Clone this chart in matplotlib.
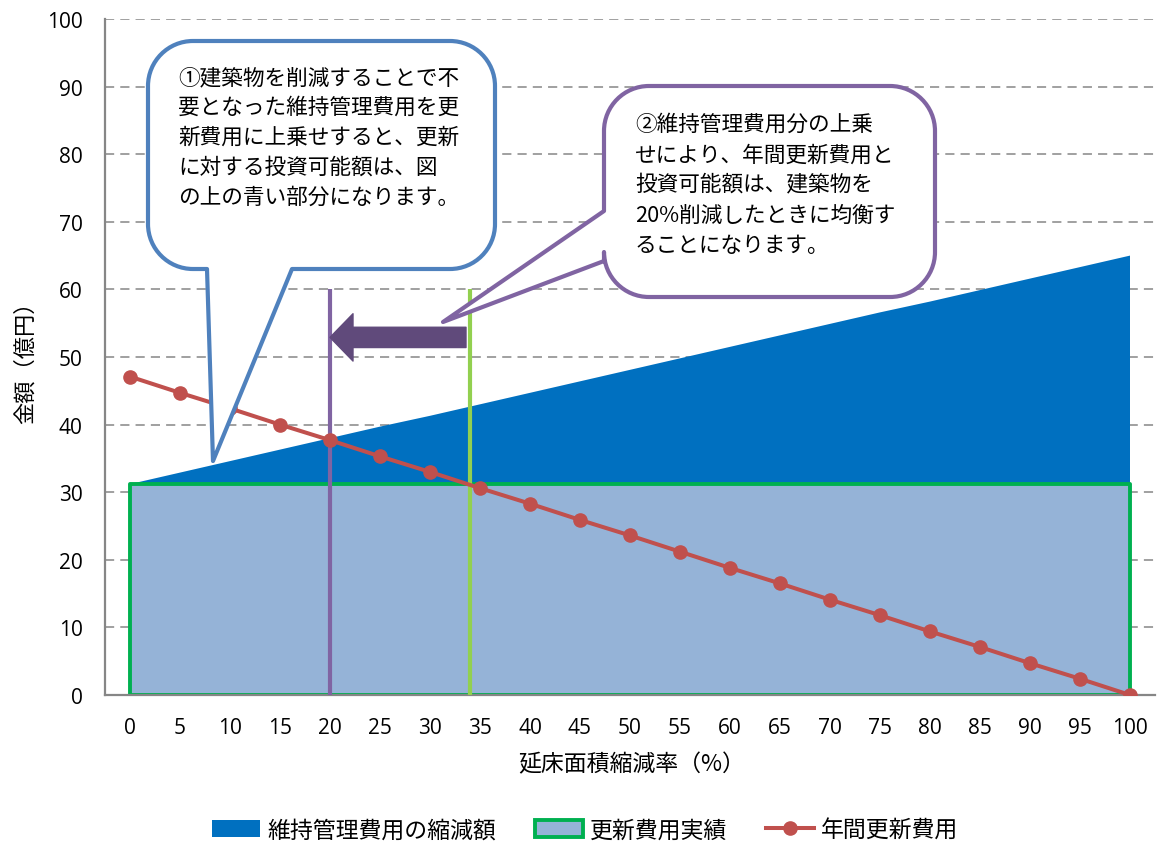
import matplotlib
matplotlib.use("Agg")
import matplotlib.pyplot as plt
from matplotlib.path import Path
from matplotlib.patches import PathPatch, FancyArrow, Patch
from matplotlib.lines import Line2D
from matplotlib.transforms import Affine2D

plt.rcParams['font.family'] = ['Noto Sans CJK JP', 'DejaVu Sans']

# --- data -------------------------------------------------------------
reduction_rate = [0, 5, 10, 15, 20, 25, 30, 35, 40, 45, 50,
                  55, 60, 65, 70, 75, 80, 85, 90, 95, 100]
# 更新費用実績 (constant)
renewal_actual = [31.2] * 21
# 維持管理費用の縮減額 (stacked above 更新費用実績)
maintenance_cut = [0.0, 1.7, 3.4, 5.1, 6.8, 8.5, 10.1, 11.8, 13.5, 15.2, 16.9,
                   18.6, 20.3, 22.0, 23.7, 25.4, 27.0, 28.7, 30.4, 32.1, 33.8]
# 年間更新費用
annual_renewal = [47.1, 44.7, 42.4, 40.0, 37.7, 35.3, 33.0, 30.6, 28.3, 25.9, 23.6,
                  21.2, 18.8, 16.5, 14.1, 11.8, 9.4, 7.1, 4.7, 2.4, 0.0]
y_ticks = [0, 10, 20, 30, 40, 50, 60, 70, 80, 90, 100]
current_rate = 34      # rate where cost and budget balance (before adding maintenance)
balanced_rate = 20     # rate where they balance with maintenance savings added
marker_top = 60

series_labels = ['維持管理費用の縮減額', '更新費用実績', '年間更新費用']
note1 = ['①建築物を削減することで不',
         '要となった維持管理費用を更',
         '新費用に上乗せすると、更新',
         'に対する投資可能額は、図',
         'の上の青い部分になります。']
note2 = ['②維持管理費用分の上乗',
         'せにより、年間更新費用と',
         '投資可能額は、建築物を',
         '20%削減したときに均衡す',
         'ることになります。']

# --- colours ----------------------------------------------------------
C_DARK = '#0070C0'
C_LIGHT = '#95B3D7'
C_GREENEDGE = '#00B050'
C_RED = '#C0504D'
C_PURPLE = '#8064A2'
C_LIME = '#92D050'
C_ARROW = '#604A7B'
C_AXIS = '#868686'
C_BLUEEDGE = '#4F81BD'

W, H = 1159, 845
fig = plt.figure(figsize=(W / 100, H / 100), dpi=100)
ax = fig.add_axes([105 / W, 1 - 696 / H, 1050 / W, 676 / H])

top = [a + b for a, b in zip(renewal_actual, maintenance_cut)]
ax.fill_between(reduction_rate, renewal_actual, top, facecolor=C_DARK,
                edgecolor='none', zorder=1.5)
ax.fill_between(reduction_rate, 0, renewal_actual, facecolor=C_LIGHT,
                edgecolor=C_GREENEDGE, linewidth=2.8, zorder=2)

ax.vlines(balanced_rate, 0, marker_top, color=C_PURPLE, linewidth=3, zorder=3)
ax.vlines(current_rate, 0, marker_top, color=C_LIME, linewidth=3, zorder=3)

ax.add_patch(FancyArrow(current_rate - 0.4, 52.9, -(current_rate - 0.4 - balanced_rate), 0,
                        width=3.0, head_width=7.0, head_length=2.3,
                        length_includes_head=True, color=C_ARROW,
                        joinstyle='round', linewidth=1, zorder=3.5))

ax.plot(reduction_rate, annual_renewal, color=C_RED, linewidth=2.9,
        marker='o', markersize=9.5, zorder=4)

ax.set_xlim(-2.5, 102.5)
ax.set_ylim(0, 100)
ax.set_xticks(reduction_rate)
ax.set_yticks(y_ticks)
ax.yaxis.grid(True, color=C_AXIS, linewidth=1.1, linestyle=(0, (6.0, 4.0)))
ax.set_axisbelow(True)
for s in ('top', 'right'):
    ax.spines[s].set_visible(False)
for s in ('left', 'bottom'):
    ax.spines[s].set_color(C_AXIS)
    ax.spines[s].set_linewidth(1.6)
ax.tick_params(axis='y', length=0, pad=16, labelsize=15)
ax.tick_params(axis='x', length=0, pad=16, labelsize=15)
for lbl in ax.get_xticklabels() + ax.get_yticklabels():
    lbl.set_fontfamily(['Open Sans', 'DejaVu Sans'])
    lbl.set_color('black')

ax.set_xlabel('延床面積縮減率（%）', fontsize=16.5)
ax.xaxis.set_label_coords((632 - 105) / 1050, (696 - 765) / 676)
ax.xaxis.label.set_va('center')
ax.set_ylabel('金額（億円）', fontsize=16)
ax.yaxis.set_label_coords((25 - 105) / 1050, (696 - 357) / 676)
ax.yaxis.label.set_va('center')

# --- speech bubbles (pixel coordinates, y downward) ---------------------
px = Affine2D().scale(1 / W, -1 / H).translate(0, 1) + fig.transFigure
K = 0.5523


def corner(verts, codes, p0, c, p3):
    verts += [(p0[0] + K * (c[0] - p0[0]), p0[1] + K * (c[1] - p0[1])),
              (p3[0] + K * (c[0] - p3[0]), p3[1] + K * (c[1] - p3[1])), p3]
    codes += [Path.CURVE4] * 3


def bubble(L, T, R, B, r, bottom_tail=None, left_tail=None):
    v = [(L + r, T), (R - r, T)]
    c = [Path.MOVETO, Path.LINETO]
    corner(v, c, (R - r, T), (R, T), (R, T + r))
    v.append((R, B - r)); c.append(Path.LINETO)
    corner(v, c, (R, B - r), (R, B), (R - r, B))
    if bottom_tail:
        for p in bottom_tail:
            v.append(p); c.append(Path.LINETO)
    v.append((L + r, B)); c.append(Path.LINETO)
    corner(v, c, (L + r, B), (L, B), (L, B - r))
    if left_tail:
        for p in left_tail:
            v.append(p); c.append(Path.LINETO)
    v.append((L, T + r)); c.append(Path.LINETO)
    corner(v, c, (L, T + r), (L, T), (L + r, T))
    v.append((L + r, T)); c.append(Path.CLOSEPOLY)
    return Path(v, c)


b1 = bubble(148, 42, 495, 270, 45,
            bottom_tail=[(292, 270), (213, 462), (207, 270)])
b2 = bubble(604, 87, 935, 298, 45,
            left_tail=[(604, 262), (443, 323), (604, 212)])
fig.add_artist(PathPatch(b1, transform=px, facecolor='white', edgecolor=C_BLUEEDGE,
                         linewidth=3, joinstyle='round', zorder=10))
fig.add_artist(PathPatch(b2, transform=px, facecolor='white', edgecolor=C_PURPLE,
                         linewidth=3, joinstyle='round', zorder=10))

for i, line in enumerate(note1):
    fig.text(178 / W, 1 - (78 + 30 * i) / H, line, fontsize=15.6,
             ha='left', va='center', color='black', zorder=11)
for i, line in enumerate(note2):
    fig.text(635 / W, 1 - (125 + 30.3 * i) / H, line, fontsize=15.6,
             ha='left', va='center', color='black', zorder=11)

# --- legend -----------------------------------------------------------
handles = [Patch(facecolor=C_DARK, edgecolor='none'),
           Patch(facecolor=C_LIGHT, edgecolor=C_GREENEDGE, linewidth=2.8),
           Line2D([], [], color=C_RED, linewidth=2.9, marker='o', markersize=9.5)]
fig.legend(handles, series_labels, loc='center', bbox_to_anchor=(585 / W, 1 - 831 / H),
           ncol=3, frameon=False, fontsize=16.5, handlelength=2.1, handleheight=0.75,
           handletextpad=0.3, columnspacing=1.7, numpoints=1)

fig.savefig('out.png', dpi=100)
